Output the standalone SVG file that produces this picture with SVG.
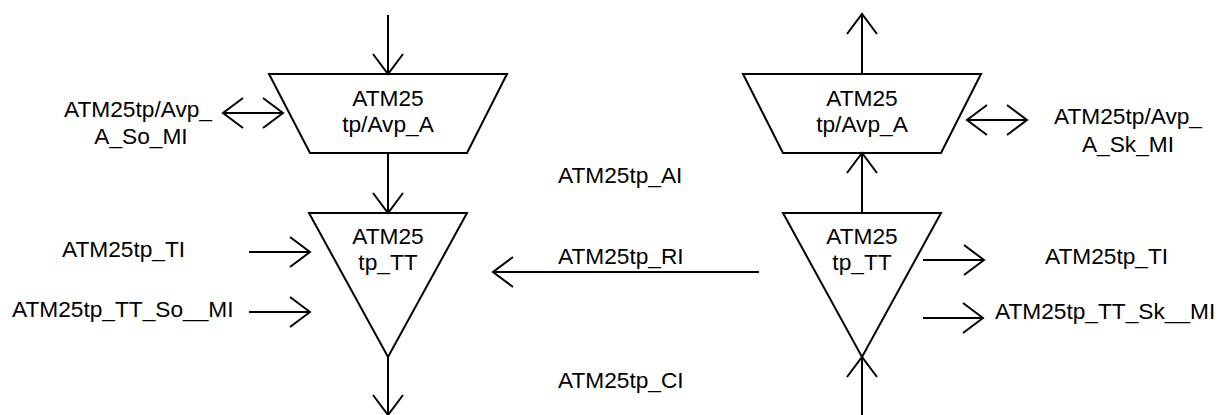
<svg xmlns="http://www.w3.org/2000/svg" width="1221" height="415" viewBox="0 0 1221 415">
<style>
.shape{fill:#fff;stroke:#000;stroke-width:2;stroke-linejoin:miter}
.t{font-family:"Liberation Sans",Arial,sans-serif;font-size:22.7px;fill:#000}
.m{text-anchor:middle}
.c{stroke:#000;stroke-width:2;fill:none}
.a{marker-end:url(#arr)}
.d{marker-start:url(#arr);marker-end:url(#arr)}
</style>
<defs>
<marker id="arr" viewBox="-22 -17 24 34" markerWidth="24" markerHeight="34" refX="0" refY="0" markerUnits="userSpaceOnUse" orient="auto-start-reverse">
<path d="M-20,-15 L0,0 L-20,15" fill="none" stroke="#000" stroke-width="2"/>
</marker>
</defs>
<rect width="1221" height="415" fill="#fff"/>
<g id="left-adapt">
<polygon class="shape" points="269,74 507,74 467,153 310,153"/>
<text class="t m" x="388" y="106">ATM25</text>
<text class="t m" x="388" y="132">tp/Avp_A</text>
</g>
<g id="left-tt">
<polygon class="shape" points="309,213 467,213 388,357"/>
<text class="t m" x="388" y="244">ATM25</text>
<text class="t m" x="388" y="270">tp_TT</text>
</g>
<g id="right-adapt">
<polygon class="shape" points="743,74 981,74 941,153 783,153"/>
<text class="t m" x="862" y="106">ATM25</text>
<text class="t m" x="862" y="132">tp/Avp_A</text>
</g>
<g id="right-tt">
<polygon class="shape" points="783,213 941,213 862,357"/>
<text class="t m" x="862" y="244">ATM25</text>
<text class="t m" x="862" y="270">tp_TT</text>
</g>
<g id="labels">
<text class="t m" x="138" y="117">ATM25tp/Avp_</text>
<text class="t m" x="141" y="144">A_So_MI</text>
<text class="t m" x="1128" y="124">ATM25tp/Avp_</text>
<text class="t m" x="1128" y="152">A_Sk_MI</text>
<text class="t" x="558" y="183">ATM25tp_AI</text>
<text class="t" x="558" y="264">ATM25tp_RI</text>
<text class="t" x="558" y="388">ATM25tp_CI</text>
<text class="t" x="62" y="257">ATM25tp_TI</text>
<text class="t" x="12" y="317">ATM25tp_TT_So__MI</text>
<text class="t" x="1045" y="264">ATM25tp_TI</text>
<text class="t" x="995" y="319">ATM25tp_TT_Sk__MI</text>
</g>
<g id="connectors">
<line class="c a" x1="388" y1="15" x2="388" y2="74"/>
<line class="c a" x1="388" y1="153" x2="388" y2="213"/>
<line class="c a" x1="388" y1="357" x2="388" y2="415"/>
<line class="c d" x1="223" y1="113" x2="283" y2="113"/>
<line class="c a" x1="249" y1="252" x2="310" y2="252"/>
<line class="c a" x1="249" y1="312" x2="310" y2="312"/>
<line class="c a" x1="759" y1="272" x2="493" y2="272"/>
<line class="c a" x1="862" y1="213" x2="862" y2="153"/>
<line class="c a" x1="862" y1="74" x2="862" y2="14"/>
<line class="c d" x1="967" y1="120" x2="1027" y2="120"/>
<line class="c a" x1="923" y1="260" x2="984" y2="260"/>
<line class="c a" x1="923" y1="318" x2="983" y2="318"/>
<line class="c a" x1="862" y1="415" x2="862" y2="357"/>
</g>
</svg>
